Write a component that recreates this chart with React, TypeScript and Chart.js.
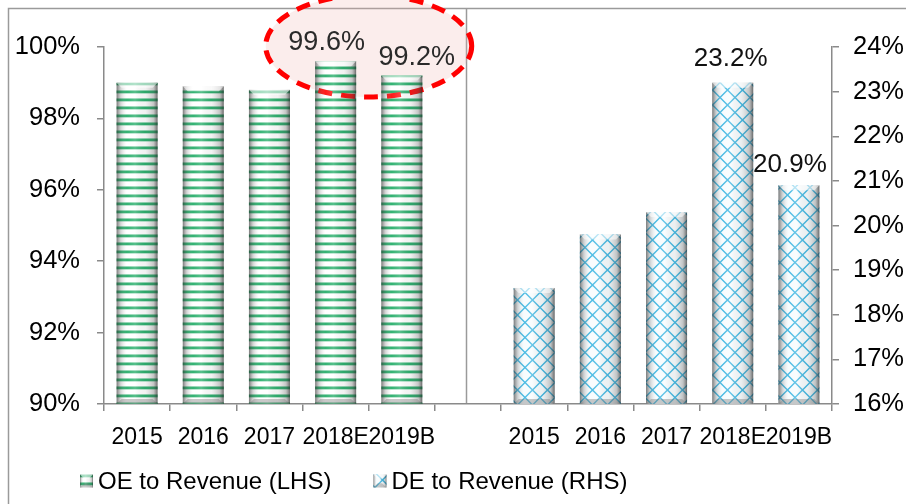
import React, { useEffect, useRef } from 'react';
import { Chart, registerables } from 'chart.js';

Chart.register(...registerables);

// ---- data ----
const years = ['2015', '2016', '2017', '2018E', '2019B'];
const oeToRevenue = [99.0, 98.9, 98.8, 99.6, 99.2];
const deToRevenue = [18.6, 19.8, 20.3, 23.2, 20.9];
const seriesNames = ['OE to Revenue (LHS)', 'DE to Revenue (RHS)'];
const labelledYears = ['2018E', '2019B'];
const lhsRange = [90, 100];
const lhsStep = 2;
const rhsRange = [16, 24];
const rhsStep = 1;

const FONT = '"Liberation Sans", Arial, Helvetica, sans-serif';
const AXIS_GREY = '#8a8a8a';

function makeStripePattern(): CanvasPattern | string {
  const c = document.createElement('canvas');
  c.width = 8;
  c.height = 8;
  const g = c.getContext('2d');
  if (!g) return '#fff';
  g.fillStyle = '#ffffff';
  g.fillRect(0, 0, 8, 8);
  g.fillStyle = 'rgba(40,175,105,0.55)';
  g.fillRect(0, 2, 8, 1);
  g.fillStyle = 'rgb(30,170,100)';
  g.fillRect(0, 3, 8, 2);
  g.fillStyle = 'rgba(40,175,105,0.35)';
  g.fillRect(0, 5, 8, 1);
  return g.createPattern(c, 'repeat') || '#fff';
}

function makeLatticePattern(): CanvasPattern | string {
  const s = 15;
  const c = document.createElement('canvas');
  c.width = s;
  c.height = s;
  const g = c.getContext('2d');
  if (!g) return '#fff';
  g.fillStyle = '#f7fcfe';
  g.fillRect(0, 0, s, s);
  g.strokeStyle = 'rgb(55,180,225)';
  g.lineWidth = 1.5;
  g.beginPath();
  g.moveTo(0, s / 2);
  g.lineTo(s / 2, 0);
  g.lineTo(s, s / 2);
  g.lineTo(s / 2, s);
  g.closePath();
  g.stroke();
  return g.createPattern(c, 'repeat') || '#fff';
}

function shadeBar(ctx: CanvasRenderingContext2D, left: number, right: number, top: number, bottom: number) {
  const w = right - left;
  const h = bottom - top;
  if (w <= 0 || h <= 0) return;
  const g = ctx.createLinearGradient(left, 0, right, 0);
  g.addColorStop(0, 'rgba(50,50,50,0.65)');
  g.addColorStop(0.1, 'rgba(110,110,110,0.3)');
  g.addColorStop(0.25, 'rgba(255,255,255,0.1)');
  g.addColorStop(0.45, 'rgba(255,255,255,0.25)');
  g.addColorStop(0.7, 'rgba(150,150,150,0.12)');
  g.addColorStop(0.9, 'rgba(90,90,90,0.35)');
  g.addColorStop(1, 'rgba(40,40,40,0.7)');
  ctx.fillStyle = g;
  ctx.fillRect(left, top, w, h);
  const b = Math.min(5, h / 3);
  // top bevel
  ctx.beginPath();
  ctx.moveTo(left, top);
  ctx.lineTo(right, top);
  ctx.lineTo(right - b, top + b);
  ctx.lineTo(left + b, top + b);
  ctx.closePath();
  ctx.fillStyle = 'rgba(255,255,255,0.55)';
  ctx.fill();
  // bottom bevel
  ctx.beginPath();
  ctx.moveTo(left + b, bottom - b);
  ctx.lineTo(right - b, bottom - b);
  ctx.lineTo(right, bottom);
  ctx.lineTo(left, bottom);
  ctx.closePath();
  ctx.fillStyle = 'rgba(120,120,120,0.4)';
  ctx.fill();
}

const framePlugin = {
  id: 'frame',
  beforeDraw(chart: any) {
    const { ctx, chartArea, scales } = chart;
    ctx.save();
    ctx.fillStyle = '#fff';
    ctx.fillRect(0, 0, chart.width, chart.height);
    ctx.strokeStyle = '#9a9a9a';
    ctx.lineWidth = 1.5;
    ctx.beginPath();
    ctx.moveTo(8.5, chart.height);
    ctx.lineTo(8.5, 8.5);
    ctx.lineTo(chart.width, 8.5);
    ctx.stroke();
    // panel divider in the middle of the empty category
    const xd = Math.round(scales.x.getPixelForValue(years.length)) - 1.5;
    ctx.beginPath();
    ctx.moveTo(xd, 8.5);
    ctx.lineTo(xd, chartArea.bottom);
    ctx.stroke();
    ctx.restore();
  },
};

function ellipseGeom(chart: any) {
  const { scales } = chart;
  const idx = labelledYears.map((y) => years.indexOf(y));
  const xa = scales.x.getPixelForValue(idx[0]);
  const xb = scales.x.getPixelForValue(idx[1]);
  const cx = (xa + xb) / 2;
  const cy = scales.yL.getPixelForValue(lhsRange[1]) - 1;
  return { cx, cy, rx: 103, ry: 51 };
}

const ellipsePlugin = {
  id: 'highlightEllipse',
  beforeDatasetsDraw(chart: any) {
    const { ctx } = chart;
    const e = ellipseGeom(chart);
    ctx.save();
    ctx.beginPath();
    ctx.ellipse(e.cx, e.cy, e.rx, e.ry, 0, 0, Math.PI * 2);
    ctx.fillStyle = 'rgba(235,175,170,0.22)';
    ctx.fill();
    ctx.restore();
  },
  afterDatasetsDraw(chart: any) {
    const { ctx } = chart;
    const e = ellipseGeom(chart);
    ctx.save();
    ctx.beginPath();
    ctx.ellipse(e.cx, e.cy, e.rx, e.ry, 0, 0, Math.PI * 2);
    ctx.strokeStyle = '#ff0000';
    ctx.lineWidth = 5;
    ctx.setLineDash([14, 9]);
    ctx.stroke();
    ctx.restore();
  },
};

const barDecorPlugin = {
  id: 'barDecor',
  afterDatasetsDraw(chart: any, _args: any, opts: any) {
    const { ctx, chartArea } = chart;
    ctx.save();
    chart.data.datasets.forEach((ds: any, di: number) => {
      const meta = chart.getDatasetMeta(di);
      meta.data.forEach((el: any, i: number) => {
        const v = ds.data[i];
        if (v === null || v === undefined) return;
        const left = el.x - el.width / 2;
        const right = el.x + el.width / 2;
        const top = Math.max(chartArea.top, Math.min(el.y, el.base));
        const bottom = Math.min(chartArea.bottom, Math.max(el.y, el.base));
        shadeBar(ctx, left, right, top, bottom);
      });
    });
    // value labels
    chart.data.datasets.forEach((ds: any, di: number) => {
      const meta = chart.getDatasetMeta(di);
      const nudges = opts.nudge[di] || [];
      let k = 0;
      meta.data.forEach((el: any, i: number) => {
        const v = ds.data[i];
        if (v === null || v === undefined) return;
        const cat = chart.data.labels[i];
        if (labelledYears.indexOf(cat) < 0) return;
        const n = nudges[k++] || [0, -10];
        ctx.font = `${opts.size[di]}px ${FONT}`;
        ctx.fillStyle = opts.color[di];
        ctx.textAlign = 'center';
        ctx.textBaseline = 'alphabetic';
        ctx.fillText(v.toFixed(1) + '%', el.x + n[0], el.y + n[1]);
      });
    });
    ctx.restore();
  },
};

const legendPlugin = {
  id: 'customLegend',
  afterDraw(chart: any, _args: any, opts: any) {
    const { ctx } = chart;
    ctx.save();
    let x = opts.x;
    const y = opts.y;
    ctx.font = `24px ${FONT}`;
    chart.data.datasets.forEach((ds: any) => {
      const bs = 13;
      ctx.fillStyle = ds.backgroundColor;
      ctx.fillRect(x, y - bs / 2, bs, bs);
      shadeBar(ctx, x, x + bs, y - bs / 2, y + bs / 2);
      ctx.fillStyle = '#000';
      ctx.textAlign = 'left';
      ctx.textBaseline = 'middle';
      ctx.fillText(ds.label, x + bs + 5, y + 1);
      x += bs + 5 + ctx.measureText(ds.label).width + 42;
    });
    ctx.restore();
  },
};

export default function App() {
  const ref = useRef<HTMLCanvasElement | null>(null);

  useEffect(() => {
    const canvas = ref.current;
    if (!canvas) return;
    Chart.defaults.font.family = FONT;
    const labels = [...years, '', ...years];
    const n = years.length;
    const oeData = labels.map((_, i) => (i < n ? oeToRevenue[i] : null));
    const deData = labels.map((_, i) => (i > n ? deToRevenue[i - n - 1] : null));
    const oePattern = makeStripePattern();
    const dePattern = makeLatticePattern();

    const axisGrid = {
      drawOnChartArea: false,
      drawTicks: true,
      tickLength: 7,
      color: AXIS_GREY,
      lineWidth: 1.5,
    };
    const axisBorder = { color: AXIS_GREY, width: 1.5 };

    const chart = new Chart(canvas, {
      type: 'bar',
      data: {
        labels,
        datasets: [
          {
            label: seriesNames[0],
            data: oeData,
            yAxisID: 'yL',
            backgroundColor: oePattern as any,
            borderWidth: 0,
            grouped: false,
            barPercentage: 0.62,
            categoryPercentage: 1,
          },
          {
            label: seriesNames[1],
            data: deData,
            yAxisID: 'yR',
            backgroundColor: dePattern as any,
            borderWidth: 0,
            grouped: false,
            barPercentage: 0.62,
            categoryPercentage: 1,
          },
        ],
      },
      options: {
        responsive: false,
        animation: false,
        layout: { padding: { top: 47, left: 0, right: 0, bottom: 0 } },
        plugins: {
          legend: { display: false },
          tooltip: { enabled: false },
          barDecor: {
            size: [27, 26],
            color: ['#2a2a2a', '#111111'],
            nudge: [
              [[-9, -11], [15, -11]],
              [[-2, -17], [-9, -13]],
            ],
          },
          customLegend: { x: 80, y: 481 },
        } as any,
        scales: {
          x: {
            grid: { ...axisGrid, offset: true },
            border: axisBorder,
            ticks: {
              autoSkip: false,
              maxRotation: 0,
              minRotation: 0,
              color: '#000',
              font: { size: 23 },
              padding: 13,
            },
            afterFit: (s: any) => {
              s.height = 100;
            },
          },
          yL: {
            position: 'left',
            min: lhsRange[0],
            max: lhsRange[1],
            grid: axisGrid,
            border: axisBorder,
            ticks: {
              stepSize: lhsStep,
              color: '#000',
              font: { size: 25.5 },
              padding: 17,
              callback: (v: any) => `${v}%`,
            },
            afterFit: (s: any) => {
              s.width = 104;
            },
          },
          yR: {
            position: 'right',
            min: rhsRange[0],
            max: rhsRange[1],
            grid: axisGrid,
            border: axisBorder,
            ticks: {
              stepSize: rhsStep,
              color: '#000',
              font: { size: 25.5 },
              padding: 14,
              callback: (v: any) => `${v}%`,
            },
            afterFit: (s: any) => {
              s.width = 74;
            },
          },
        } as any,
      },
      plugins: [framePlugin, ellipsePlugin, barDecorPlugin, legendPlugin],
    });
    return () => chart.destroy();
  }, []);

  return (
    <div
      style={{
        position: 'fixed',
        left: 0,
        top: 0,
        width: 906,
        height: 504,
        background: '#fff',
        overflow: 'hidden',
      }}
    >
      <canvas ref={ref} width={906} height={504} style={{ width: 906, height: 504, display: 'block' }} />
    </div>
  );
}
